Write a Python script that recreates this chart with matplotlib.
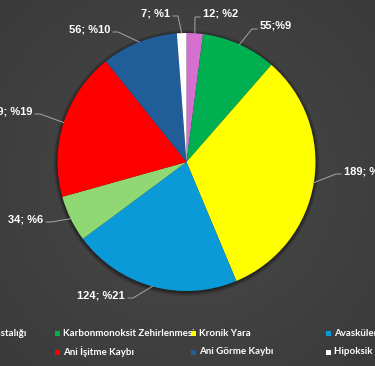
import numpy as np
import matplotlib
matplotlib.use('Agg')
from matplotlib import pyplot as plt
from matplotlib.patches import Circle, Rectangle

# data, clockwise from 12 o'clock
categories = ['Dekompresyon Hastalığı', 'Karbonmonoksit Zehirlenmesi', 'Kronik Yara',
              'Avasküler Nekroz', 'Diğer', 'Ani İşitme Kaybı',
              'Ani Görme Kaybı', 'Hipoksik Ensefalopati']
values = [12, 55, 189, 124, 34, 109, 56, 7]
label_texts = ['12; %2', '55;%9', '189; %32', '124; %21', '34; %6', '109; %19', '56; %10', '7; %1']
colors = ['#D56FD0', '#00B050', '#FFFF00', '#0A9AD7', '#8FD873', '#FF0000', '#215D99', '#FFFFFF']

# layout (pixels from top-left)
W, H = 375, 366
cx, cy, R = 186.5, 162, 129
label_pos = [(203, 14, 'left'), (260, 26, 'left'), (344, 171, 'left'), (125, 295, 'right'),
             (43, 219, 'right'), (32, 111, 'right'), (110, 29, 'right'), (170, 13, 'right')]

plt.rcParams['font.family'] = ['Liberation Sans', 'DejaVu Sans']
legend_font = ['Lato', 'DejaVu Sans']

fig = plt.figure(figsize=(W / 100, H / 100), dpi=100)
ax = fig.add_axes([0, 0, 1, 1])

# dark radial background
yy, xx = np.mgrid[0:H, 0:W]
d = np.sqrt(((xx - W / 2) / W) ** 2 + ((yy - H / 2) / H) ** 2)
g = 0.29 - 0.09 * d
bg = np.dstack([g, g, g])
ax.imshow(bg, extent=(0, W, 0, H), origin='upper', zorder=0)

# soft shadow around the pie
for k, a in [(4, 0.08), (3, 0.10), (2, 0.14), (1, 0.18)]:
    ax.add_patch(Circle((cx, H - cy - 1), R + k, color='black', alpha=a, lw=0, zorder=1))

wedges, _ = ax.pie(values, colors=colors, startangle=90, counterclock=False,
                   center=(cx, H - cy), radius=R, frame=True,
                   wedgeprops=dict(linewidth=0, zorder=2))
ax.set_xlim(0, W)
ax.set_ylim(0, H)
ax.set_aspect('equal')
ax.axis('off')

# data labels with leader lines
for w, txt, (lx, ly, ha) in zip(wedges, label_texts, label_pos):
    ax.text(lx, H - ly, txt, color='white', fontsize=8, fontweight='bold',
            ha=ha, va='center', zorder=4)
    mid = np.radians((w.theta1 + w.theta2) / 2)
    ex = cx + R * np.cos(mid)
    ey = H - cy + R * np.sin(mid)
    s = 1 if ha == 'right' else -1
    x0 = lx + s * 3
    x1 = lx + s * 8
    ax.plot([x0, x1, ex], [H - ly - 3, H - ly - 3, ey], color='#A6A6A6', lw=0.7, zorder=3)

# legend, two rows of four (first column runs off the left edge)
col_x = [-89, 55, 191, 326]
row_y = [333, 352]
for i, (name, c) in enumerate(zip(categories, colors)):
    x = col_x[i % 4]
    y = row_y[i // 4]
    ax.add_patch(Rectangle((x, H - y - 2.5), 5, 5, color=c, lw=0, zorder=4))
    ax.text(x + 8, H - y, name, color='white', fontsize=7, fontweight='bold',
            family=legend_font, ha='left', va='center', zorder=4)

fig.savefig('out.png', dpi=100)
